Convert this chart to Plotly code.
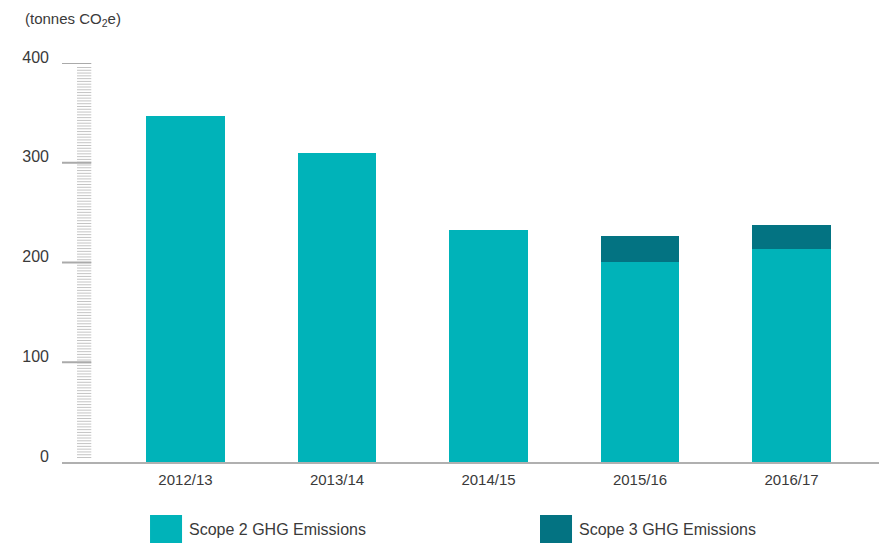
import plotly.graph_objects as go

categories = ["2012/13", "2013/14", "2014/15", "2015/16", "2016/17"]
scope2 = [347, 310, 233, 201, 213.5]
scope3 = [0, 0, 0, 25.5, 24]
series_names = ["Scope 2 GHG Emissions", "Scope 3 GHG Emissions"]
colors = ["#00B3B9", "#037382"]
y_ticks = [0, 100, 200, 300, 400]
y_title = "(tonnes CO<sub>2</sub>e)"

FONT = "Liberation Sans, Arial, sans-serif"
TEXT = "#3a3a3a"

fig = go.Figure()
x_idx = list(range(len(categories)))
fig.add_trace(go.Bar(x=x_idx, y=scope2, name=series_names[0], marker_color=colors[0],
                     marker_line_width=0, width=0.52, showlegend=False))
fig.add_trace(go.Bar(x=x_idx, y=scope3, name=series_names[1], marker_color=colors[1],
                     marker_line_width=0, width=0.52, showlegend=False))

shapes = []
# ruler-like minor ticks
n_minor = 141
for i in range(n_minor):
    yv = 4.5 + i * (391.0 / (n_minor - 1))
    shapes.append(dict(type="line", xref="paper", yref="y", x0=0.0182, x1=0.0355,
                       y0=yv, y1=yv, line=dict(color="#c4c4c4", width=1), layer="below"))
# major ticks
for t in y_ticks[1:]:
    shapes.append(dict(type="line", xref="paper", yref="y", x0=0.0, x1=0.0355,
                       y0=t, y1=t, line=dict(color="#aaaaaa", width=2), layer="below"))

# custom legend
leg_pos = [(0.1067, 0.1455, 0.1515), (0.5794, 0.6182, 0.6242)]
annotations = []
for (x0, x1, xt), name, col in zip(leg_pos, series_names, colors):
    shapes.append(dict(type="rect", xref="paper", yref="paper", x0=x0, x1=x1,
                       y0=-0.203, y1=-0.1328, fillcolor=col, line=dict(width=0)))
    annotations.append(dict(xref="paper", yref="paper", x=xt, y=-0.168, xanchor="left",
                            yanchor="middle", text=name, showarrow=False,
                            font=dict(family=FONT, size=16, color=TEXT)))

annotations.append(dict(xref="paper", yref="paper", x=-0.0473, y=1.108, xanchor="left",
                        yanchor="middle", text=y_title, showarrow=False,
                        font=dict(family=FONT, size=15, color=TEXT)))

# page body has an 8px margin: shrink the figure so it still fits the 887x544 window
fig.update_layout(
    barmode="stack",
    width=879, height=536,
    margin=dict(l=54, r=0, t=55, b=82, autoexpand=False),
    paper_bgcolor="white", plot_bgcolor="white",
    font=dict(family=FONT, size=15, color=TEXT),
    shapes=shapes,
    annotations=annotations,
    xaxis=dict(
        tickmode="array", tickvals=x_idx, ticktext=categories,
        range=[-0.815, 4.63], showgrid=False, zeroline=False,
        showline=True, linecolor="#b0b0b0", linewidth=2,
        ticks="", ticklabelstandoff=3, automargin=False,
        tickfont=dict(family=FONT, size=15, color=TEXT),
    ),
    yaxis=dict(
        range=[0, 400], tickmode="array", tickvals=y_ticks,
        showgrid=False, zeroline=False, showline=False, ticks="",
        ticklabelstandoff=12, ticklabelshift=-6, automargin=False,
        tickfont=dict(family=FONT, size=16, color=TEXT),
    ),
)

fig.write_html("out.html")
